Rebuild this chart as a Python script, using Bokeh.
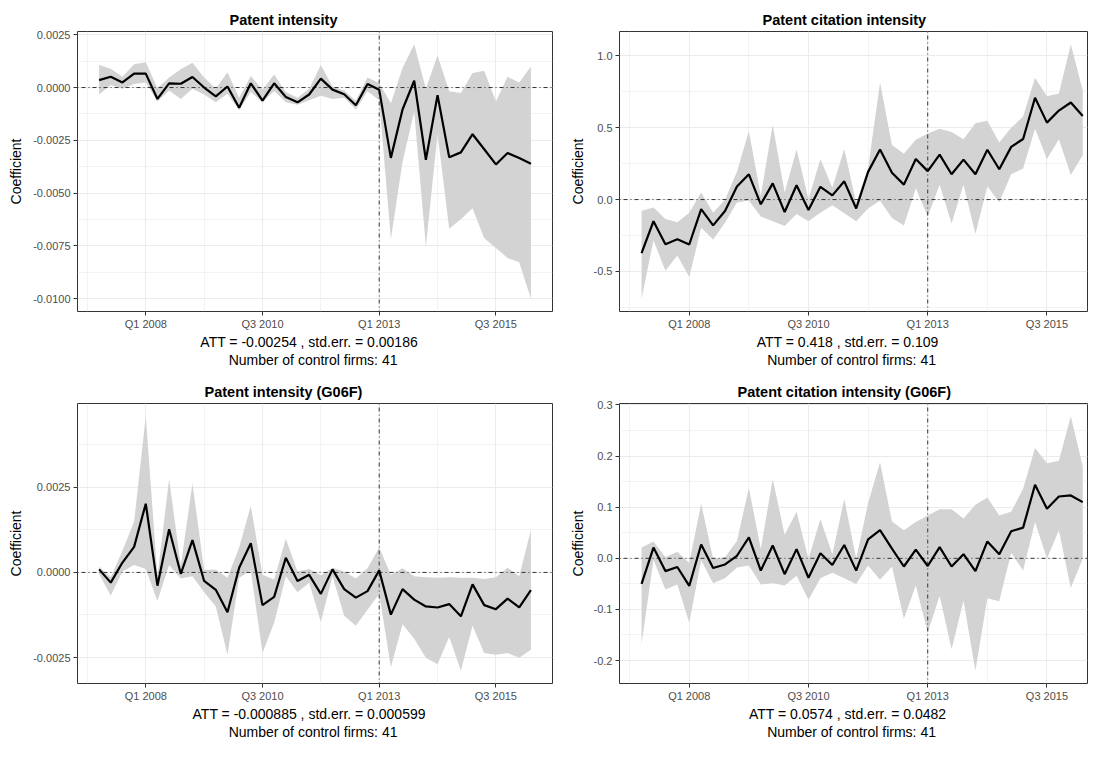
from bokeh.plotting import figure
from bokeh.models import FixedTicker, PrintfTickFormatter, Span, Title, Range1d
from bokeh.layouts import column, row
from bokeh.embed import file_html
from bokeh.resources import INLINE

# ---------------- data ----------------
quarters = [
    "2007Q1", "2007Q2", "2007Q3", "2007Q4", "2008Q1", "2008Q2", "2008Q3", "2008Q4",
    "2009Q1", "2009Q2", "2009Q3", "2009Q4", "2010Q1", "2010Q2", "2010Q3", "2010Q4",
    "2011Q1", "2011Q2", "2011Q3", "2011Q4", "2012Q1", "2012Q2", "2012Q3", "2012Q4",
    "2013Q1", "2013Q2", "2013Q3", "2013Q4", "2014Q1", "2014Q2", "2014Q3", "2014Q4",
    "2015Q1", "2015Q2", "2015Q3", "2015Q4", "2016Q1", "2016Q2",
]
tick_quarters = ["2008Q1", "2010Q3", "2013Q1", "2015Q3"]
tick_labels = ["Q1 2008", "Q3 2010", "Q1 2013", "Q3 2015"]
treatment_quarter = "2013Q1"

titles = ["Patent intensity", "Patent citation intensity",
          "Patent intensity (G06F)", "Patent citation intensity (G06F)"]
att_values = ["-0.00254", "0.418", "-0.000885", "0.0574"]
se_values = ["0.00186", "0.109", "0.000599", "0.0482"]
n_control = [41, 41, 41, 41]

# Patent intensity
pi_coef = [0.00035, 0.00051, 0.00024, 0.00066, 0.00066, -0.00054, 0.00020, 0.00018, 0.00050, 0.00000,
           -0.00042, 0.00005, -0.00096, 0.00020, -0.00062, 0.00020, -0.00045, -0.00070, -0.00033,
           0.00042, -0.00010, -0.00032, -0.00084, 0.00017, -0.00010, -0.00333, -0.00104, 0.00032,
           -0.00342, -0.00036, -0.00330, -0.00307, -0.00221, -0.00292, -0.00364, -0.00310, -0.00334, -0.00361]
pi_upper = [0.00107, 0.00089, 0.00051, 0.00110, 0.00120, -0.00003, 0.00047, 0.00087, 0.00117, 0.00047,
            -0.00006, 0.00072, -0.00048, 0.00054, -0.00009, 0.00062, -0.00021, -0.00048, -0.00006,
            0.00107, 0.00005, -0.00014, -0.00063, 0.00047, 0.00021, -0.00074, 0.00092, 0.00205,
            -0.00006, 0.00152, -0.00018, -0.00026, 0.00069, 0.00080, -0.00066, 0.00051, 0.00024, 0.00099]
pi_lower = [-0.00033, 0.00012, -0.00006, 0.00017, 0.00024, -0.00066, -0.00014, -0.00054, -0.00006, -0.00033,
            -0.00070, -0.00029, -0.00108, -0.00021, -0.00070, -0.00017, -0.00070, -0.00081, -0.00060,
            -0.00039, -0.00054, -0.00048, -0.00104, -0.00018, -0.00060, -0.00717, -0.00352, -0.00114,
            -0.00753, -0.00220, -0.00669, -0.00623, -0.00571, -0.00714, -0.00760, -0.00807, -0.00827, -0.01000]

# Patent citation intensity
pc_coef = [-0.373, -0.151, -0.311, -0.276, -0.313, -0.067, -0.180, -0.080, 0.091, 0.176,
           -0.033, 0.113, -0.087, 0.100, -0.073, 0.089, 0.029, 0.127, -0.062,
           0.193, 0.349, 0.187, 0.104, 0.282, 0.198, 0.313, 0.176, 0.278,
           0.176, 0.347, 0.211, 0.367, 0.422, 0.709, 0.536, 0.620, 0.676, 0.582]
pc_upper = [-0.078, -0.056, -0.136, -0.158, -0.091, 0.049, -0.091, -0.002, 0.193, 0.478,
            0.027, 0.522, 0.049, 0.349, 0.004, 0.282, 0.082, 0.353, -0.024,
            0.220, 0.816, 0.380, 0.320, 0.416, 0.460, 0.493, 0.471, 0.420,
            0.531, 0.549, 0.398, 0.500, 0.578, 0.849, 0.720, 0.738, 1.082, 0.760]
pc_lower = [-0.691, -0.284, -0.496, -0.389, -0.540, -0.196, -0.278, -0.162, -0.020, -0.007,
            -0.118, -0.151, -0.184, -0.100, -0.151, -0.091, -0.040, -0.096, -0.151,
            -0.062, -0.007, -0.129, -0.180, 0.078, -0.118, 0.104, -0.167, 0.104,
            -0.240, 0.093, -0.018, 0.176, 0.216, 0.493, 0.282, 0.420, 0.171, 0.309]

# Patent intensity (G06F)
pg_coef = [0.00009, -0.00030, 0.00029, 0.00075, 0.00202, -0.00039, 0.00127, -0.00004, 0.00095, -0.00025,
           -0.00051, -0.00117, 0.00014, 0.00086, -0.00096, -0.00072, 0.00043, -0.00025, -0.00007,
           -0.00063, 0.00009, -0.00049, -0.00074, -0.00055, 0.00006, -0.00124, -0.00049, -0.00080,
           -0.00100, -0.00103, -0.00093, -0.00129, -0.00035, -0.00096, -0.00108, -0.00077, -0.00103, -0.00052]
pg_upper = [0.00017, -0.00014, 0.00064, 0.00149, 0.00459, -0.00011, 0.00275, 0.00020, 0.00261, 0.00008,
            0.00008, -0.00016, 0.00073, 0.00196, -0.00007, -0.00021, 0.00099, 0.00003, 0.00010,
            -0.00008, 0.00014, 0.00003, -0.00018, 0.00012, 0.00073, -0.00007, 0.00012, -0.00011,
            -0.00014, -0.00016, -0.00014, -0.00016, -0.00016, -0.00019, -0.00014, 0.00014, -0.00011, 0.00125]
pg_lower = [-0.00005, -0.00068, 0.00003, 0.00022, 0.00010, -0.00084, 0.00022, -0.00018, -0.00011, -0.00058,
            -0.00100, -0.00242, -0.00016, 0.00005, -0.00237, -0.00148, -0.00011, -0.00058, -0.00030,
            -0.00146, -0.00011, -0.00127, -0.00157, -0.00110, -0.00063, -0.00279, -0.00152, -0.00195,
            -0.00251, -0.00270, -0.00190, -0.00289, -0.00157, -0.00237, -0.00242, -0.00237, -0.00251, -0.00227]

# Patent citation intensity (G06F)
pcg_coef = [-0.050, 0.021, -0.025, -0.017, -0.054, 0.027, -0.019, -0.012, 0.005, 0.041,
            -0.024, 0.025, -0.031, 0.018, -0.038, 0.010, -0.013, 0.026, -0.024,
            0.037, 0.055, 0.019, -0.016, 0.017, -0.015, 0.022, -0.016, 0.008,
            -0.025, 0.033, 0.008, 0.053, 0.060, 0.144, 0.097, 0.121, 0.123, 0.110]
pcg_upper = [0.021, 0.033, 0.002, 0.013, -0.009, 0.107, -0.001, 0.002, 0.034, 0.138,
             0.018, 0.155, 0.046, 0.091, -0.001, 0.077, 0.008, 0.116, -0.001,
             0.108, 0.188, 0.072, 0.055, 0.071, 0.084, 0.096, 0.096, 0.078,
             0.105, 0.119, 0.084, 0.091, 0.136, 0.216, 0.186, 0.191, 0.278, 0.180]
pcg_lower = [-0.168, -0.003, -0.061, -0.051, -0.126, -0.004, -0.049, -0.039, -0.018, -0.014,
             -0.051, -0.049, -0.053, -0.034, -0.081, -0.039, -0.028, -0.039, -0.050,
             -0.014, -0.042, -0.016, -0.118, -0.053, -0.145, -0.073, -0.178, -0.083,
             -0.220, -0.078, -0.084, 0.011, -0.024, 0.071, -0.001, 0.055, -0.058, -0.001]

pi_yticks = [-0.01, -0.0075, -0.005, -0.0025, 0.0, 0.0025]
pc_yticks = [-0.5, 0.0, 0.5, 1.0]
pg_yticks = [-0.0025, 0.0, 0.0025]
pcg_yticks = [-0.2, -0.1, 0.0, 0.1, 0.2, 0.3]

coefs = [pi_coef, pc_coef, pg_coef, pcg_coef]
uppers = [pi_upper, pc_upper, pg_upper, pcg_upper]
lowers = [pi_lower, pc_lower, pg_lower, pcg_lower]
yticks_all = [pi_yticks, pc_yticks, pg_yticks, pcg_yticks]
yfmts = ["%.4f", "%.1f", "%.4f", "%.1f"]

# ---------------- styling ----------------
FONT = "Liberation Sans"
GRID = "#EBEBEB"
DARK = "#333333"
TICKTXT = "#4D4D4D"
RIBBON = "#D3D3D3"
DOTDASH = "1 3 4 3"
TITLE_OFFSETS = [152, 143, 127, 118]

xs = list(range(len(quarters)))
major_x = [quarters.index(q) for q in tick_quarters]
step_x = major_x[1] - major_x[0]
minor_x = [m - step_x / 2 for m in major_x] + [major_x[-1] + step_x / 2]
treat_x = quarters.index(treatment_quarter)


def make_panel(k):
    col = k % 2
    rowi = k // 2
    left = col == 0
    W = 566 if left else 522
    H, btop, bbot = 372, 31, 61
    x_end = (xs[-1] + 1.85) if left else (xs[-1] + 0.4)

    lo = min(lowers[k]); hi = max(uppers[k])
    pad = 0.05 * (hi - lo)

    p = figure(width=W, height=H,
               x_range=Range1d(xs[0] - 1.85, x_end),
               y_range=Range1d(lo - pad, hi + pad),
               output_backend="svg", toolbar_location=None,
               min_border_left=77 if left else 48,
               min_border_right=14 if left else 1,
               min_border_top=btop, min_border_bottom=bbot,
               background_fill_color="white", border_fill_color="white",
               outline_line_color=DARK, outline_line_width=1)

    # title
    p.title.text = titles[k]
    p.title.text_font = FONT
    p.title.text_font_size = "14.5px"
    p.title.text_font_style = "bold"
    p.title.text_color = "black"
    p.title.align = "left"
    p.title.offset = TITLE_OFFSETS[k]
    p.title.standoff = 8

    # x axis
    xa = p.xaxis[0]
    xa.ticker = FixedTicker(ticks=major_x, minor_ticks=minor_x)
    xa.major_label_overrides = {m: lab for m, lab in zip(major_x, tick_labels)}
    xa.axis_label = f"ATT =  {att_values[k]} ,  std.err. =  {se_values[k]}"
    xa.axis_label_standoff = 1
    # y axis
    yt = yticks_all[k]
    ystep = yt[1] - yt[0]
    yminor = [t - ystep / 2 for t in yt] + [yt[-1] + ystep / 2]
    ya = p.yaxis[0]
    ya.ticker = FixedTicker(ticks=yt, minor_ticks=yminor)
    ya.formatter = PrintfTickFormatter(format=yfmts[k])
    ya.axis_label = "Coefficient"

    for ax in (xa, ya):
        ax.axis_line_color = None
        ax.major_tick_line_color = DARK
        ax.major_tick_out = 4
        ax.major_tick_in = 0
        ax.minor_tick_out = 0
        ax.minor_tick_in = 0
        ax.major_label_text_font = FONT
        ax.major_label_text_font_size = "11px"
        ax.major_label_text_color = TICKTXT
        ax.major_label_standoff = 3
        ax.axis_label_text_font = FONT
        ax.axis_label_text_font_size = "14px"
        ax.axis_label_text_font_style = "normal"
        ax.axis_label_text_color = "black"
    xa.major_label_standoff = 2
    ya.axis_label_standoff = 6 if left else 5

    for g in (p.xgrid[0], p.ygrid[0]):
        g.grid_line_color = GRID
        g.grid_line_width = 1
        g.minor_grid_line_color = GRID
        g.minor_grid_line_width = 0.6

    # ribbon, reference lines, estimate line
    p.varea(x=xs, y1=lowers[k], y2=uppers[k], fill_color=RIBBON, fill_alpha=1)
    p.add_layout(Span(location=0, dimension="width", line_color=DARK,
                      line_width=1, line_dash=DOTDASH, level="glyph"))
    p.add_layout(Span(location=treat_x, dimension="height", line_color=DARK,
                      line_width=1, line_dash=DOTDASH, level="glyph"))
    p.line(x=xs, y=coefs[k], line_color="black", line_width=2.2, level="annotation")

    # second caption line
    t = Title(text=f"Number of control firms:  {n_control[k]}", align="center",
              text_font=FONT, text_font_size="14px", text_font_style="normal",
              text_color="black", standoff=-5)
    p.add_layout(t, "below")
    return p


panels = [make_panel(k) for k in range(4)]
layout = column(row(panels[0], panels[1]), row(panels[2], panels[3]))

open("out.html", "w").write(file_html(layout, INLINE))
